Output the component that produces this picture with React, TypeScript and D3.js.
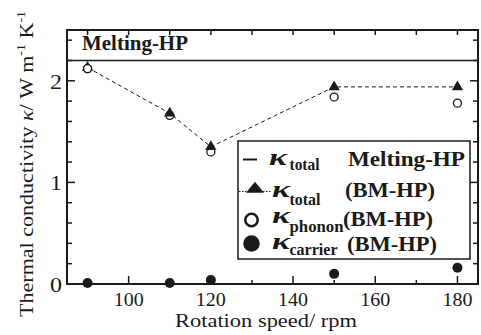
import { useEffect, useRef } from "react";
import * as d3 from "d3";

const speeds = [90, 110, 120, 150, 180];
const totalBM = [2.13, 1.68, 1.35, 1.94, 1.94];
const phononBM = [2.12, 1.66, 1.3, 1.84, 1.78];
const carrierBM = [0.01, 0.01, 0.04, 0.1, 0.16];
const totalMelting = 2.2;
const xTicks = [100, 120, 140, 160, 180];
const yTicks = [0, 1, 2];

const W = 481;
const H = 335;
const m = { left: 67, right: 3, top: 30, bottom: 51 };
const serif = "Liberation Serif";
const ink = "#1a1a1a";

export default function App() {
  const ref = useRef<SVGSVGElement>(null);

  useEffect(() => {
    const svg = d3.select(ref.current);
    svg.selectAll("*").remove();

    const x = d3.scaleLinear().domain([85, 185]).range([m.left, W - m.right]);
    const y = d3.scaleLinear().domain([0, 2.5]).range([H - m.bottom, m.top]);
    const x0 = m.left, x1 = W - m.right, y0 = H - m.bottom, y1 = m.top;

    const g = svg.append("g");

    // text helper: size from glyph height, width forced to what the picture shows
    const txt = (sel: any, px: number, py: number, size: number, len: number, s: string, bold = false) =>
      sel.append("text").attr("x", px).attr("y", py)
        .style("font-family", serif).style("font-size", size + "px")
        .style("font-weight", bold ? "bold" : "normal").attr("fill", ink)
        .attr("textLength", len).attr("lengthAdjust", "spacingAndGlyphs").text(s);

    // ticks, all pointing inward
    d3.range(90, 185, 10).forEach((v) => {
      const len = v % 20 === 0 ? 8 : 4;
      g.append("line").attr("x1", x(v)).attr("x2", x(v)).attr("y1", y0).attr("y2", y0 - len).attr("stroke", ink).attr("stroke-width", 1.5);
      g.append("line").attr("x1", x(v)).attr("x2", x(v)).attr("y1", y1).attr("y2", y1 + 5).attr("stroke", ink).attr("stroke-width", 1.5);
    });
    d3.range(0, 2.51, 0.2).forEach((v) => {
      const major = Math.abs(v - Math.round(v)) < 1e-6;
      const len = major ? 8 : 5;
      g.append("line").attr("x1", x0).attr("x2", x0 + len).attr("y1", y(v)).attr("y2", y(v)).attr("stroke", ink).attr("stroke-width", 1.5);
      g.append("line").attr("x1", x1).attr("x2", x1 - len).attr("y1", y(v)).attr("y2", y(v)).attr("stroke", ink).attr("stroke-width", 1.5);
    });

    // tick labels
    xTicks.forEach((d) => txt(g, x(d) - 15, y0 + 22, 19, 30, String(d)));
    yTicks.forEach((d) => txt(g, x0 - 17, y(d) + 8, 20, 12, String(d)));

    // axis titles
    txt(g, 175, 327, 19, 182, "Rotation speed/ rpm");
    const yl = g.append("text").attr("transform", "translate(33,317) rotate(-90)")
      .style("font-family", serif).style("font-size", "19px").attr("fill", ink)
      .attr("textLength", 306).attr("lengthAdjust", "spacingAndGlyphs");
    yl.append("tspan").text("Thermal conductivity ");
    yl.append("tspan").style("font-style", "italic").text("κ");
    yl.append("tspan").text("/ W m");
    yl.append("tspan").style("font-size", "12px").attr("dy", -8).text("-1");
    yl.append("tspan").attr("dy", 8).text(" K");
    yl.append("tspan").style("font-size", "12px").attr("dy", -8).text("-1");

    // Melting-HP total: horizontal line
    g.append("line").attr("x1", x0).attr("x2", x1).attr("y1", y(totalMelting)).attr("y2", y(totalMelting))
      .attr("stroke", ink).attr("stroke-width", 1.5);
    txt(g, 82, 50, 20, 106, "Melting-HP", true);

    // dashed line through BM-HP totals
    const line = d3.line<number>().x((_, i) => x(speeds[i])).y((d) => y(d));
    g.append("path").attr("d", line(totalBM)).attr("fill", "none").attr("stroke", ink)
      .attr("stroke-width", 1).attr("stroke-dasharray", "4,3");

    const tri = d3.symbol().type(d3.symbolTriangle).size(55);
    g.selectAll(".ph").data(phononBM).enter().append("circle")
      .attr("cx", (_, i) => x(speeds[i])).attr("cy", (d) => y(d)).attr("r", 4)
      .attr("fill", "white").attr("stroke", ink).attr("stroke-width", 1.3);
    g.selectAll(".tri").data(totalBM).enter().append("path")
      .attr("d", tri).attr("transform", (d, i) => `translate(${x(speeds[i])},${y(d)})`).attr("fill", ink);
    // at 90 rpm the open circle sits on top of the triangle
    g.append("circle").attr("cx", x(speeds[0])).attr("cy", y(phononBM[0])).attr("r", 4)
      .attr("fill", "white").attr("stroke", ink).attr("stroke-width", 1.3);
    g.selectAll(".ca").data(carrierBM).enter().append("circle")
      .attr("cx", (_, i) => x(speeds[i])).attr("cy", (d) => y(d)).attr("r", 5).attr("fill", ink);

    // legend
    const lg = g.append("g");
    lg.append("rect").attr("x", 238).attr("y", 141).attr("width", 232).attr("height", 118)
      .attr("fill", "white").attr("stroke", ink).attr("stroke-width", 1.5);
    lg.append("line").attr("x1", 243).attr("x2", 257).attr("y1", 159.5).attr("y2", 159.5).attr("stroke", ink).attr("stroke-width", 2);
    lg.append("line").attr("x1", 239).attr("x2", 271).attr("y1", 191.5).attr("y2", 191.5).attr("stroke", ink).attr("stroke-width", 1.2).attr("stroke-dasharray", "1.5,1.5");
    lg.append("path").attr("d", "M246,192.7 L255,181.7 L264,192.7 Z").attr("fill", ink);
    lg.append("circle").attr("cx", 251.5).attr("cy", 220).attr("r", 6.2).attr("fill", "white").attr("stroke", ink).attr("stroke-width", 2.6);
    lg.append("circle").attr("cx", 251.5).attr("cy", 243.5).attr("r", 8.3).attr("fill", ink);

    const rows = [
      { kx: 269, kb: 165, sub: "total", sw: 30, sb: 170, tail: "Melting-HP", tx: 348, tw: 117, tb: 166 },
      { kx: 272, kb: 197, sub: "total", sw: 31, sb: 205, tail: "(BM-HP)", tx: 345, tw: 90, tb: 197 },
      { kx: 272, kb: 223, sub: "phonon", sw: 54, sb: 231.5, tail: "(BM-HP)", tx: 343, tw: 90, tb: 226 },
      { kx: 272, kb: 249, sub: "carrier", sw: 48, sb: 255, tail: "(BM-HP)", tx: 347, tw: 90, tb: 251 },
    ];
    rows.forEach((r) => {
      txt(lg, r.kx, r.kb, 24, 18, "κ", true).style("font-style", "italic");
      txt(lg, 289.5, r.sb, 16, r.sw, r.sub, true);
      txt(lg, r.tx, r.tb, 20, r.tw, r.tail, true);
    });

    // frame
    g.append("rect").attr("x", x0).attr("y", y1).attr("width", x1 - x0).attr("height", y0 - y1)
      .attr("fill", "none").attr("stroke", ink).attr("stroke-width", 2);
  }, []);

  return (
    <svg ref={ref} width={W} height={H}
      style={{ position: "absolute", left: 0, top: 0, display: "block", background: "white", fontFamily: serif }} />
  );
}
